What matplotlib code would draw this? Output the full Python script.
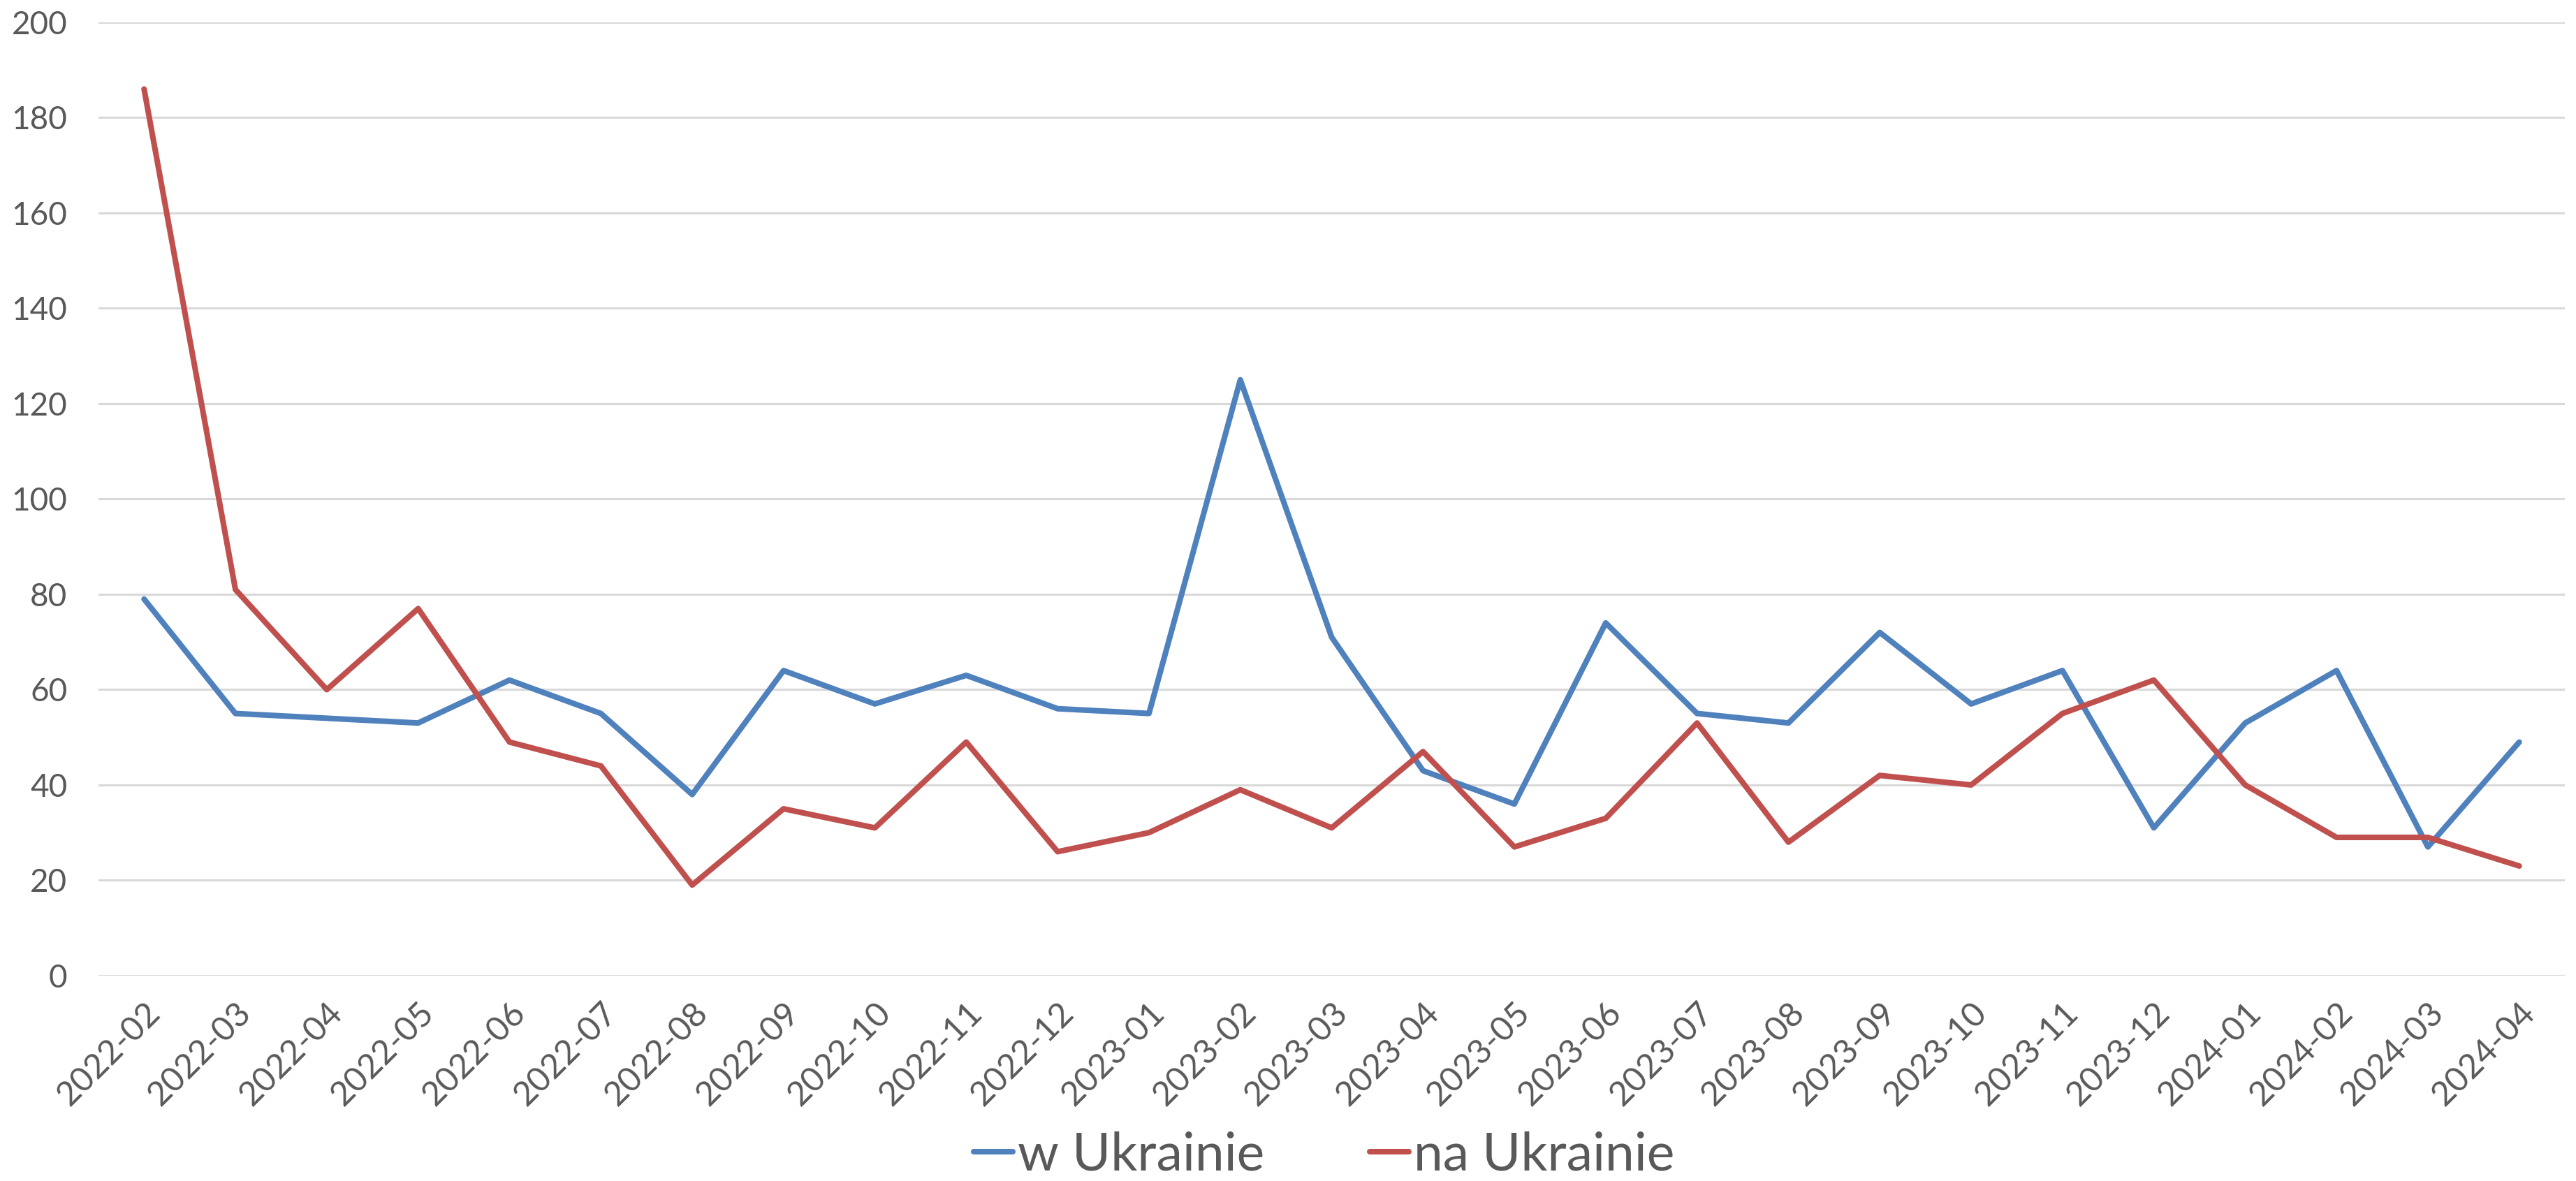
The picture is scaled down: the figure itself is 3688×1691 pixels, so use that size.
import matplotlib
matplotlib.use('Agg')
from matplotlib import pyplot as plt

months = ['2022-02', '2022-03', '2022-04', '2022-05', '2022-06', '2022-07', '2022-08',
          '2022-09', '2022-10', '2022-11', '2022-12', '2023-01', '2023-02', '2023-03',
          '2023-04', '2023-05', '2023-06', '2023-07', '2023-08', '2023-09', '2023-10',
          '2023-11', '2023-12', '2024-01', '2024-02', '2024-03', '2024-04']
w_ukrainie = [79, 55, 54, 53, 62, 55, 38, 64, 57, 63, 56, 55, 125, 71,
              43, 36, 74, 55, 53, 72, 57, 64, 31, 53, 64, 27, 49]
na_ukrainie = [186, 81, 60, 77, 49, 44, 19, 35, 31, 49, 26, 30, 39, 31,
               47, 27, 33, 53, 28, 42, 40, 55, 62, 40, 29, 29, 23]
y_ticks = [0, 20, 40, 60, 80, 100, 120, 140, 160, 180, 200]

plt.rcParams['font.family'] = ['Lato', 'DejaVu Sans']
text_color = '#595959'

fig = plt.figure(figsize=(18.44, 8.455), dpi=200)
ax = fig.add_axes([0.0382, 0.1739, 0.9575, 0.8072])

x = range(len(months))
ax.plot(x, w_ukrainie, color='#4F81BD', lw=2.9, solid_capstyle='round', label='w Ukrainie')
ax.plot(x, na_ukrainie, color='#C0504D', lw=2.9, solid_capstyle='round', label='na Ukrainie')

ax.set_xlim(-0.5, len(months) - 0.5)
ax.set_ylim(0, 200)
ax.set_yticks(y_ticks)
ax.set_xticks(list(x))
ax.set_xticklabels(months, rotation=45, ha='right', rotation_mode='anchor')
ax.tick_params(axis='y', length=0, pad=16, labelsize=16.5, labelcolor=text_color)
ax.tick_params(axis='x', length=0, pad=11, labelsize=17.5, labelcolor=text_color)
ax.grid(axis='y', color='#D9D9D9', lw=1.1)
ax.set_axisbelow(True)
for side in ['top', 'right', 'left', 'bottom']:
    ax.spines[side].set_visible(False)

fig.legend(loc='center', bbox_to_anchor=(0.514, 0.022), ncol=2, frameon=False,
           fontsize=27, labelcolor=text_color, handlelength=0.75, handletextpad=0.1,
           columnspacing=2.0)

fig.savefig('out.png', dpi=200)
